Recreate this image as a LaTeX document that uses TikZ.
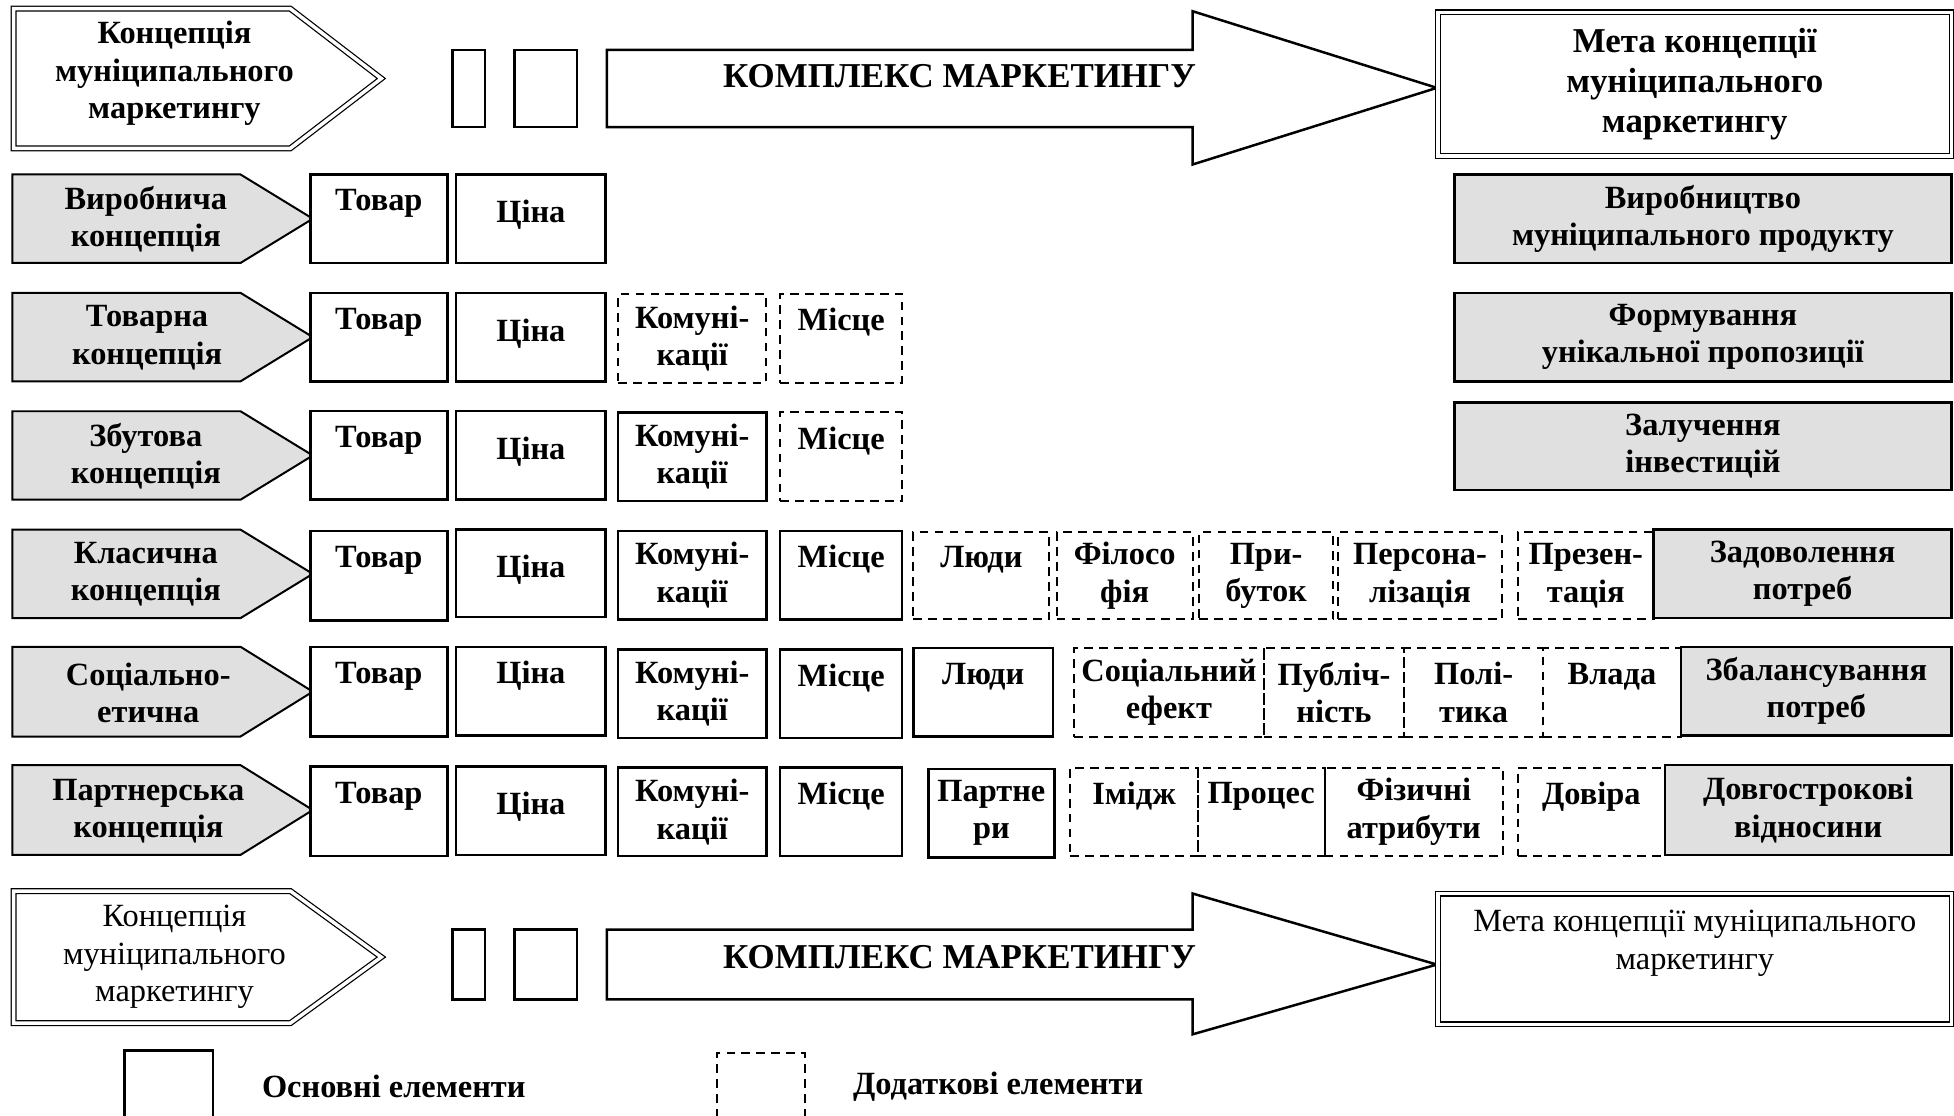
\documentclass[tikz,border=0pt]{standalone}
\usepackage{fontspec}
\setmainfont{Liberation Serif}
\definecolor{greyfill}{RGB}{224,224,224}
\newcommand\rowfont{\fontsize{13}{15}\selectfont\bfseries}
\newcommand\hdfont{\fontsize{14}{15}\selectfont\bfseries}
\newcommand\pentfont{\fontsize{13}{15}\selectfont\bfseries}
\newcommand\goalfont{\fontsize{14}{16}\selectfont\bfseries}
\newcommand\regfont{\fontsize{13}{15}\selectfont}
\newcommand\tl[1]{#1\\\phantom{Т}}
\newcommand\bx[7]{\node[#1, minimum width={(#5-#3)*0.5pt}, minimum height={(#6-#4)*0.5pt}] (#2) at ({(#3+#5)/2},{(#4+#6)/2}) {#7};}
\begin{document}
\begin{tikzpicture}[x=0.5pt,y=-0.5pt,
  base/.style={draw=black, line width=1pt, inner sep=0pt, align=center, font=\rowfont},
  mainbox/.style={base, fill=white},
  extrabox/.style={base, line width=0.8pt, dash pattern=on 3.5pt off 2.5pt},
  goalbox/.style={base, fill=greyfill},
  dblbox/.style={draw=black, line width=0.5pt, double=white, double distance=1.4pt, inner sep=0pt, align=center},
  pent/.style={draw=black, line width=0.8pt, fill=greyfill},
  dblpent/.style={draw=black, line width=0.5pt, double=white, double distance=1.4pt},
  arrowshape/.style={draw=black, line width=1pt, fill=white},
  lbl/.style={inner sep=0pt, align=center, font=\rowfont},
  up/.style={yshift=1.5pt},
]
\useasboundingbox (0,0) rectangle (1568,895);

% ---------- header (bold) ----------
\draw[dblpent] (11,7) -- (233,7) -- (306,63) -- (233,119) -- (11,119) -- cycle;
\node[lbl, font=\pentfont] (h1) at (140,59) {Концепція\\муніципального\\маркетингу};
\bx{mainbox}{hs1}{363}{40}{389}{102}{}
\bx{mainbox}{hs2}{413}{40}{463}{102}{}
\draw[arrowshape] (487,40) -- (957,40) -- (957,9) -- (1153,70.5) -- (957,132) -- (957,102) -- (487,102) -- cycle;
\node[lbl, font=\hdfont] (hk) at (770,61) {КОМПЛЕКС МАРКЕТИНГУ};
\bx{dblbox, font=\goalfont}{hg}{1154}{10}{1566}{125}{Мета концепції\\муніципального\\маркетингу}

% ---------- row 1 ----------
\draw[pent] (10,140) -- (193,140) -- (251,175.5) -- (193,211) -- (10,211) -- cycle;
\node[lbl] (c1) at (117,176) {Виробнича\\концепція};
\bx{mainbox}{r1a}{249}{140}{359}{211}{\tl{Товар}}
\bx{mainbox}{r1b}{366}{140}{486}{211}{}
\node[lbl, up] (r1bt) at (r1b) {Ціна};
\bx{goalbox}{g1}{1167}{140}{1566}{211}{Виробництво\\муніципального продукту}

% ---------- row 2 ----------
\draw[pent] (10,235) -- (193,235) -- (251,270.5) -- (193,306) -- (10,306) -- cycle;
\node[lbl] (c2) at (118,271) {Товарна\\концепція};
\bx{mainbox}{r2a}{249}{235}{359}{306}{\tl{Товар}}
\bx{mainbox}{r2b}{366}{235}{486}{306}{}
\node[lbl, up] (r2bt) at (r2b) {Ціна};
\bx{extrabox}{r2c}{496}{236}{615}{307}{Комуні-\\кації}
\bx{extrabox}{r2d}{626}{236}{724}{307}{\tl{Місце}}
\bx{goalbox}{g2}{1167}{235}{1566}{306}{Формування\\унікальної пропозиції}

% ---------- row 3 ----------
\draw[pent] (10,330) -- (193,330) -- (251,365.5) -- (193,401) -- (10,401) -- cycle;
\node[lbl] (c3) at (117,366) {Збутова\\концепція};
\bx{mainbox}{r3a}{249}{330}{359}{401}{\tl{Товар}}
\bx{mainbox}{r3b}{366}{330}{486}{401}{}
\node[lbl, up] (r3bt) at (r3b) {Ціна};
\bx{mainbox}{r3c}{496}{331}{615}{402}{Комуні-\\кації}
\bx{extrabox}{r3d}{626}{331}{724}{402}{\tl{Місце}}
\bx{goalbox}{g3}{1167}{323}{1566}{393}{Залучення\\інвестицій}

% ---------- row 4 ----------
\draw[pent] (10,425) -- (193,425) -- (251,460.5) -- (193,496) -- (10,496) -- cycle;
\node[lbl] (c4) at (117,461) {Класична\\концепція};
\bx{mainbox}{r4a}{249}{426}{359}{498}{\tl{Товар}}
\bx{mainbox}{r4b}{366}{425}{486}{495}{}
\node[lbl, up] (r4bt) at (r4b) {Ціна};
\bx{mainbox}{r4c}{496}{426}{615}{497}{Комуні-\\кації}
\bx{mainbox}{r4d}{626}{426}{724}{497}{\tl{Місце}}
\bx{extrabox}{r4e}{733}{427}{842}{497}{\tl{Люди}}
\bx{extrabox}{r4f}{848}{427}{957}{497}{Філосо\\фія}
\bx{extrabox}{r4g}{962}{427}{1070}{497}{При-\\буток}
\bx{extrabox}{r4h}{1074}{427}{1205}{497}{Персона-\\лізація}
\bx{extrabox}{r4i}{1218}{427}{1327}{497}{Презен-\\тація}
\bx{goalbox}{g4}{1327}{425}{1566}{496}{Задоволення\\потреб}

% ---------- row 5 ----------
\draw[pent] (10,519) -- (193,519) -- (251,555) -- (193,591) -- (10,591) -- cycle;
\node[lbl] (c5) at (119,556) {Соціально-\\етична};
\bx{mainbox}{r5a}{249}{519}{359}{591}{\tl{Товар}}
\bx{mainbox}{r5b}{366}{519}{486}{590}{\tl{Ціна}}
\bx{mainbox}{r5c}{496}{521}{615}{592}{Комуні-\\кації}
\bx{mainbox}{r5d}{626}{521}{724}{592}{\tl{Місце}}
\bx{mainbox}{r5e}{733}{520}{845}{591}{\tl{Люди}}
\bx{extrabox}{r5f}{862}{520}{1014}{591}{Соціальний\\ефект}
\bx{extrabox}{r5g}{1014}{520}{1127}{591}{Публіч-\\ність}
\bx{extrabox}{r5h}{1127}{520}{1238}{591}{Полі-\\тика}
\bx{extrabox}{r5i}{1238}{520}{1349}{591}{\tl{Влада}}
\bx{goalbox}{g5}{1349}{519}{1566}{590}{Збалансування\\потреб}

% ---------- row 6 ----------
\draw[pent] (10,614) -- (193,614) -- (251,650) -- (193,686) -- (10,686) -- cycle;
\node[lbl] (c6) at (119,651) {Партнерська\\концепція};
\bx{mainbox}{r6a}{249}{615}{359}{687}{\tl{Товар}}
\bx{mainbox}{r6b}{366}{615}{486}{686}{}
\node[lbl, up] (r6bt) at (r6b) {Ціна};
\bx{mainbox}{r6c}{496}{616}{615}{687}{Комуні-\\кації}
\bx{mainbox}{r6d}{626}{616}{724}{687}{\tl{Місце}}
\bx{mainbox}{r6e}{745}{617}{846}{688}{Партне\\ри}
\bx{extrabox}{r6f}{859}{616}{961}{687}{\tl{Імідж}}
\bx{extrabox}{r6g}{961}{616}{1063}{687}{\tl{Процес}}
\bx{extrabox}{r6h}{1063}{616}{1206}{687}{Фізичні\\атрибути}
\bx{extrabox}{r6i}{1218}{616}{1336}{687}{\tl{Довіра}}
\bx{goalbox}{g6}{1336}{614}{1566}{686}{Довгострокові\\відносини}

% ---------- footer (regular) ----------
\draw[dblpent] (11,715) -- (233,715) -- (306,768) -- (233,821) -- (11,821) -- cycle;
\node[lbl, font=\regfont] (b1) at (140,768) {Концепція\\муніципального\\маркетингу};
\bx{mainbox}{bs1}{363}{746}{389}{802}{}
\bx{mainbox}{bs2}{413}{746}{463}{802}{}
\draw[arrowshape] (487,746) -- (957,746) -- (957,717) -- (1153,774) -- (957,830) -- (957,802) -- (487,802) -- cycle;
\node[lbl, font=\hdfont] (bk) at (770,768) {КОМПЛЕКС МАРКЕТИНГУ};
\bx{dblbox}{bg}{1154}{717}{1566}{822}{}
\node[lbl, font=\regfont] (bgt) at (1360,757) {Мета концепції муніципального\\маркетингу};

% ---------- legend ----------
\bx{mainbox}{lg1}{100}{843}{171}{910}{}
\node[lbl] (lt1) at (316,872) {Основні елементи};
\bx{extrabox}{lg2}{575}{845}{646}{910}{}
\node[lbl] (lt2) at (801,872) {Додаткові елементи};
\end{tikzpicture}
\end{document}
